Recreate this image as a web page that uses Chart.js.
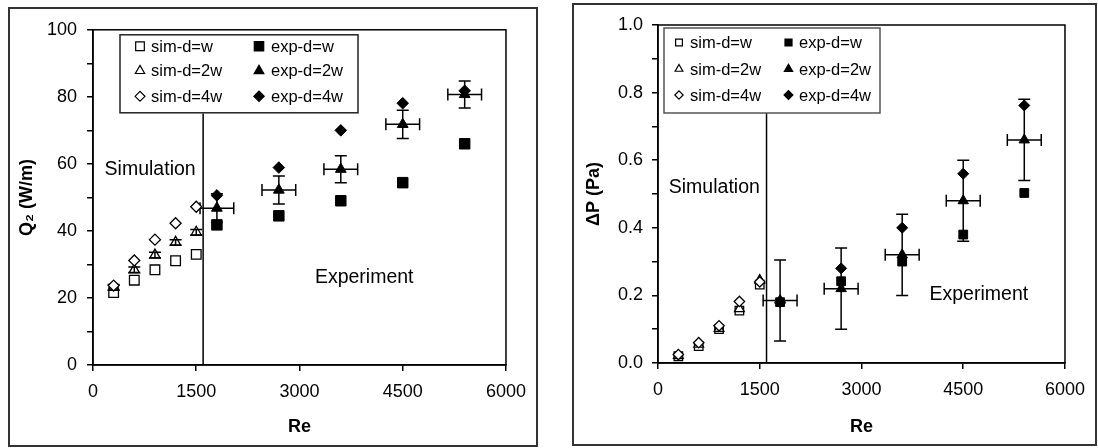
<!DOCTYPE html>
<html><head><meta charset="utf-8">
<script src="https://cdn.jsdelivr.net/npm/chart.js@4.4.1/dist/chart.umd.min.js"></script>
<style>
html,body{margin:0;padding:0;background:#fff;width:1098px;height:448px;overflow:hidden;}
.box{position:absolute;box-sizing:border-box;border:2px solid #333;background:#fff;}
#b1{left:8px;top:7px;width:530px;height:440px;}
#b2{left:572px;top:3px;width:525px;height:443px;}
canvas{position:absolute;left:0;top:0;}
</style></head><body>
<div class="box" id="b1"><canvas id="c1" width="526" height="436"></canvas></div>
<div class="box" id="b2"><canvas id="c2" width="521" height="439"></canvas></div>
<script>
// ---------------- data ----------------
const reSim = [300, 600, 900, 1200, 1500];
const reExp = [1800, 2700, 3600, 4500, 5400];
const dividerRe = [1600, 1600];
const reTicks = [0, 1500, 3000, 4500, 6000];

const q2SimW  = [21.6, 25.3, 28.4, 31.1, 33.0];
const q2Sim2W = [23.2, 28.4, 32.8, 36.6, 39.6];
const q2Sim4W = [23.7, 31.2, 37.4, 42.3, 47.2];
const q2ExpW  = [41.8, 44.5, 49.0, 54.4, 66.0];
const q2Exp2W = [46.8, 52.2, 58.4, 71.8, 80.7];
const q2Exp4W = [50.6, 58.9, 70.0, 78.1, 81.8];
const q2Exp2WErrY = [4.3, 4.2, 4.0, 4.2, 4.0];
const q2Exp2WErrX = [245, 245, 245, 245, 245];
const q2Sim2WErrY = [0.8, 0.8, 0.8, 0.8, 0.8];
const q2Divider = [0, 75];
const q2Ticks = [0, 10, 20, 30, 40, 50, 60, 70, 80, 90, 100];
const q2TickLabels = ['0', '', '20', '', '40', '', '60', '', '80', '', '100'];

const dpSimW  = [0.020, 0.050, 0.100, 0.155, 0.232];
const dpSim2W = [0.022, 0.055, 0.102, 0.160, 0.245];
const dpSim4W = [0.025, 0.060, 0.110, 0.182, 0.240];
const dpExpW  = [0.180, 0.242, 0.300, 0.380, 0.503];
const dpExp2W = [0.185, 0.220, 0.320, 0.480, 0.660];
const dpExp4W = [0.180, 0.280, 0.400, 0.560, 0.762];
const dpExp2WErrY = [0.12, 0.12, 0.12, 0.12, 0.12];
const dpExp2WErrX = [250, 250, 250, 250, 250];
const dpDivider = [0, 0.75];
const dpTicks = [0, 0.1, 0.2, 0.3, 0.4, 0.5, 0.6, 0.7, 0.8, 0.9, 1.0];
const dpTickLabels = ['0.0', '', '0.2', '', '0.4', '', '0.6', '', '0.8', '', '1.0'];

const seriesNames = ['sim-d=w', 'exp-d=w', 'sim-d=2w', 'exp-d=2w', 'sim-d=4w', 'exp-d=4w'];
const regionNotes = ['Simulation', 'Experiment'];
// positions (in data units) of the two region notes
const q2NoteRe = [830, 3940];
const q2NoteVal = [58.3, 26];
const dpNoteRe = [830, 4730];
const dpNoteVal = [0.518, 0.201];

// ---------------- helpers ----------------
const F = "'Liberation Sans', Arial, Helvetica, sans-serif";
function pts(xs, ys) { return xs.map((x, i) => ({x: x, y: ys[i]})); }

function series(i, xs, ys, shape, filled, r, extra) {
  return Object.assign({
    label: seriesNames[i], legendSlot: i, order: -i,
    data: pts(xs, ys), pointStyle: shape, pointRadius: r, pointHoverRadius: r,
    pointBackgroundColor: filled ? '#000' : '#fff', pointBorderColor: '#000',
    pointBorderWidth: filled ? 1 : 1.3, showLine: false
  }, extra || {});
}

const errBars = {
  id: 'errBars',
  afterDatasetDraw(chart, args) {
    const d = chart.data.datasets[args.index];
    if (!d.err) return;
    const ctx = chart.ctx, sx = chart.scales.x, sy = chart.scales.y;
    ctx.save();
    ctx.strokeStyle = '#000'; ctx.lineWidth = 1.5;
    d.data.forEach((p, i) => {
      const px = sx.getPixelForValue(p.x), py = sy.getPixelForValue(p.y);
      ctx.beginPath();
      if (d.err.y) {
        const e = d.err.y[i], c = d.err.capY;
        const t = sy.getPixelForValue(p.y + e), b = sy.getPixelForValue(p.y - e);
        ctx.moveTo(px, t); ctx.lineTo(px, b);
        ctx.moveTo(px - c, t); ctx.lineTo(px + c, t);
        ctx.moveTo(px - c, b); ctx.lineTo(px + c, b);
      }
      if (d.err.x) {
        const e = d.err.x[i], c = d.err.capX;
        const l = sx.getPixelForValue(p.x - e), r = sx.getPixelForValue(p.x + e);
        ctx.moveTo(l, py); ctx.lineTo(r, py);
        ctx.moveTo(l, py - c); ctx.lineTo(l, py + c);
        ctx.moveTo(r, py - c); ctx.lineTo(r, py + c);
      }
      ctx.stroke();
    });
    ctx.restore();
  }
};

const frame = {
  id: 'frame',
  beforeDatasetsDraw(chart) {
    const ctx = chart.ctx, a = chart.chartArea;
    ctx.save(); ctx.strokeStyle = '#000'; ctx.lineWidth = 1.5;
    ctx.strokeRect(a.left, a.top, a.right - a.left, a.bottom - a.top);
    ctx.restore();
  }
};

const notes = {
  id: 'notes',
  afterDatasetsDraw(chart, args, o) {
    const ctx = chart.ctx, sx = chart.scales.x, sy = chart.scales.y;
    ctx.save();
    ctx.font = o.size + 'px ' + F; ctx.fillStyle = '#000';
    ctx.textAlign = 'center'; ctx.textBaseline = 'middle';
    regionNotes.forEach((t, i) => {
      ctx.fillText(t, sx.getPixelForValue(o.xs[i]), sy.getPixelForValue(o.ys[i]));
    });
    ctx.restore();
  }
};

const gridLegend = {
  id: 'gridLegend',
  afterDatasetsDraw(chart, args, o) {
    const ctx = chart.ctx, a = chart.chartArea;
    const bx = a.left + o.dx, by = a.top + o.dy;
    ctx.save();
    ctx.fillStyle = '#fff'; ctx.fillRect(bx, by, o.w, o.h);
    ctx.strokeStyle = o.border; ctx.lineWidth = o.lw; ctx.strokeRect(bx, by, o.w, o.h);
    ctx.font = o.size + 'px ' + F; ctx.textBaseline = 'middle'; ctx.textAlign = 'left';
    chart.data.datasets.forEach(d => {
      if (d.legendSlot == null) return;
      const row = Math.floor(d.legendSlot / 2), col = d.legendSlot % 2;
      const y = by + o.rows[row];
      ctx.fillStyle = d.pointBackgroundColor; ctx.strokeStyle = '#000'; ctx.lineWidth = 1.2;
      Chart.helpers.drawPoint(ctx, {pointStyle: d.pointStyle, radius: d.pointRadius * o.markerScale, rotation: 0, borderWidth: 1.2}, bx + o.markerX[col], y);
      ctx.fillStyle = '#000';
      ctx.fillText(d.label, bx + o.textX[col], y + 1);
    });
    ctx.restore();
  }
};

function axisCommon(extra) {
  return Object.assign({
    type: 'linear',
    grid: {drawOnChartArea: false, drawTicks: true, tickLength: 6, color: '#000', lineWidth: 1.5},
    border: {display: true, color: '#000', width: 1.5}
  }, extra);
}

function build(id, L) {
  return new Chart(document.getElementById(id), {
    type: 'scatter',
    data: {datasets: L.datasets},
    plugins: [frame, errBars, notes, gridLegend],
    options: {
      responsive: false, animation: false, events: [],
      layout: {padding: L.pad},
      plugins: {
        legend: {display: false}, tooltip: {enabled: false},
        notes: {xs: L.noteX, ys: L.noteY, size: 19.5},
        gridLegend: L.legend
      },
      scales: {
        x: axisCommon({
          min: 0, max: 6000,
          afterBuildTicks: s => { s.ticks = reTicks.map(v => ({value: v})); },
          afterFit: s => { s.height = L.xH; },
          ticks: {font: {family: F, size: 18}, color: '#000', padding: 10, maxRotation: 0, autoSkip: false,
                  callback: v => String(v)},
          title: {display: true, text: 'Re', font: {family: F, size: 18, weight: 'bold'}, color: '#000', padding: 0}
        }),
        y: axisCommon({
          min: L.yTicks[0], max: L.yTicks[L.yTicks.length - 1],
          afterBuildTicks: s => { s.ticks = L.yTicks.map(v => ({value: v})); },
          afterFit: s => { s.width = L.yW; },
          ticks: {font: {family: F, size: 18}, color: '#000', padding: L.yPad, autoSkip: false,
                  callback: (v, i) => L.yLabels[i]},
          title: {display: true, text: L.yTitle, font: {family: F, size: 18, weight: 'bold'}, color: '#000', padding: 0}
        })
      }
    }
  });
}

function datasetsFor(v, r) {
  return [
    series(0, reSim, v.simW, 'rect', false, r.sq),
    series(1, reExp, v.expW, 'rect', true, r.sqF),
    series(2, reSim, v.sim2W, 'triangle', false, r.tri, v.sim2WErr ? {err: {y: v.sim2WErr, capY: 6}} : {}),
    series(3, reExp, v.exp2W, 'triangle', true, r.triF, {err: {y: v.errY, x: v.errX, capY: 6, capX: 6}}),
    series(4, reSim, v.sim4W, 'rectRot', false, r.dia),
    series(5, reExp, v.exp4W, 'rectRot', true, r.diaF),
    {label: 'divider', data: pts(dividerRe, v.divider), showLine: true, pointRadius: 0,
     borderColor: '#000', borderWidth: 1.5, order: 10}
  ];
}

build('c1', {
  pad: {left: 6, right: 23, top: 18, bottom: 7}, xH: 73, yW: 77, yPad: 10,
  yTicks: q2Ticks, yLabels: q2TickLabels, yTitle: 'Q\u2082 (W/m)',
  noteX: q2NoteRe, noteY: q2NoteVal,
  legend: {dx: 27, dy: 5, w: 238, h: 78, rows: [11.5, 36, 61.5], markerX: [20, 139], textX: [31, 151],
           size: 16.5, border: '#222', lw: 1.5, markerScale: 0.9},
  datasets: datasetsFor({simW: q2SimW, sim2W: q2Sim2W, sim4W: q2Sim4W, expW: q2ExpW, exp2W: q2Exp2W, exp4W: q2Exp4W,
                         errY: q2Exp2WErrY, errX: q2Exp2WErrX, sim2WErr: q2Sim2WErrY, divider: q2Divider},
                        {sq: 6.8, sqF: 7.4, tri: 6, triF: 6.2, dia: 5.5, diaF: 5.8})
});

build('c2', {
  pad: {left: 9, right: 20, top: 20, bottom: 6}, xH: 75, yW: 75, yPad: 9,
  yTicks: dpTicks, yLabels: dpTickLabels, yTitle: '\u0394P (Pa)',
  noteX: dpNoteRe, noteY: dpNoteVal,
  legend: {dx: 6, dy: 3, w: 216, h: 85, rows: [14.5, 41, 67], markerX: [15, 124.5], textX: [26, 135],
           size: 16.5, border: '#555', lw: 1.5, markerScale: 0.8},
  datasets: datasetsFor({simW: dpSimW, sim2W: dpSim2W, sim4W: dpSim4W, expW: dpExpW, exp2W: dpExp2W, exp4W: dpExp4W,
                         errY: dpExp2WErrY, errX: dpExp2WErrX, divider: dpDivider},
                        {sq: 6, sqF: 6.2, tri: 5.6, triF: 6, dia: 5.2, diaF: 5.5})
});
</script>
</body></html>
